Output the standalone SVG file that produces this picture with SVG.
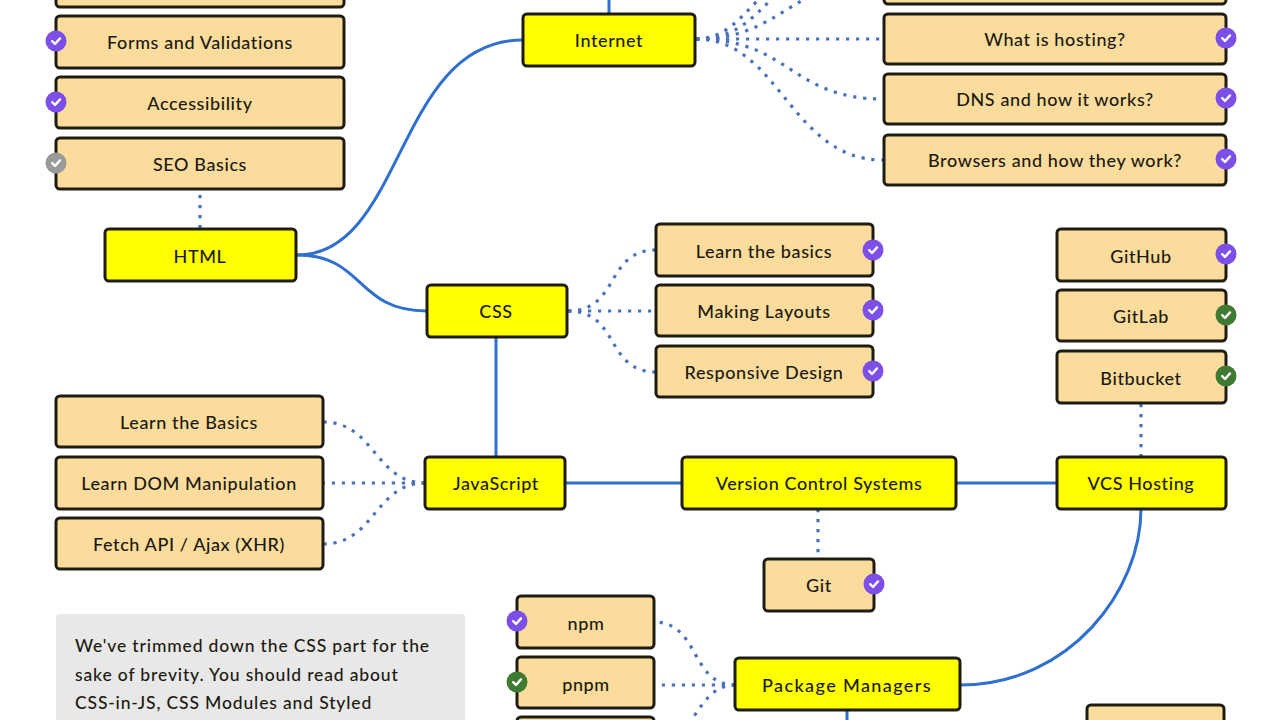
<svg xmlns="http://www.w3.org/2000/svg" width="1279" height="720" viewBox="0 0 1279 720">
<defs>
<g id="chk"><path d="M-3.8 0.2L-1 3L4 -2.6" fill="none" stroke="#fff" stroke-width="2.4" stroke-linecap="round" stroke-linejoin="round"/></g>
</defs>
<style>
text{font-family:"Lato","Noto Sans","Liberation Sans",sans-serif;font-size:18px;font-weight:500;letter-spacing:.6px;fill:#1c1a10;text-anchor:middle;dominant-baseline:central}
.y rect{fill:#ffff00;stroke:#1f1d12;stroke-width:3}
.o rect{fill:#fbdc9c;stroke:#1f1d12;stroke-width:3}
.s{fill:none;stroke:#2f6fd0;stroke-width:3}
.d{fill:none;stroke:#4a72bc;stroke-width:3.2;stroke-dasharray:3.2 6.8}
.p{fill:#7c4fe8}.g{fill:#3f7a32}.a{fill:#9a9a9a}
.n text{text-anchor:start;font-size:17.5px;letter-spacing:.85px}
.w{letter-spacing:1.4px}
</style>
<rect width="1279" height="720" fill="#fff"/>
<g id="connectors">
<path class="s" d="M609 0V13"/>
<path class="s" d="M297 255C405 255 395 40 523 40"/>
<path class="s" d="M297 255C365 255 355 311 427 311"/>
<path class="s" d="M496 337V457"/>
<path class="s" d="M566 483H682"/>
<path class="s" d="M956 483H1057"/>
<path class="s" d="M1141 509C1141 590 1070 685 960 685"/>
<path class="s" d="M847 711V720"/>
<path class="d" d="M200 195V229"/>
<path class="d" d="M696 39H883"/>
<path class="d" d="M696 39C790 39 790 99 883 99"/>
<path class="d" d="M696 39C780 39 790 160 883 160"/>
<path class="d" d="M696 39C750 39 770 18 810 -4"/>
<path class="d" d="M696 39C735 39 750 20 775 -4"/>
<path class="d" d="M696 39C725 39 740 18 762 -4"/>
<path class="d" d="M568 311C620 311 605 250 656 250"/>
<path class="d" d="M568 311H656"/>
<path class="d" d="M568 311C620 311 605 372 656 372"/>
<path class="d" d="M425 483C375 483 375 422 323 422"/>
<path class="d" d="M425 483H323"/>
<path class="d" d="M425 483C375 483 375 544 323 544"/>
<path class="d" d="M1141 404V457"/>
<path class="d" d="M818 509V559"/>
<path class="d" d="M735 685C690 685 700 622 654 622"/>
<path class="d" d="M735 685H654"/>
<path class="d" d="M735 685C695 685 695 745 654 745"/>
</g>
<g id="html-top" class="o"><rect x="56" y="-40" width="288" height="47" rx="4"/></g>
<g id="forms" class="o"><rect x="56" y="16" width="288" height="52" rx="4"/><text x="200" y="42">Forms and Validations</text><circle class="p" cx="56" cy="41" r="10.5"/><use href="#chk" x="56" y="41"/></g>
<g id="accessibility" class="o"><rect x="56" y="77" width="288" height="51" rx="4"/><text x="200" y="103">Accessibility</text><circle class="p" cx="56" cy="102" r="10.5"/><use href="#chk" x="56" y="102"/></g>
<g id="seo" class="o"><rect x="56" y="138" width="288" height="51" rx="4"/><text x="200" y="164">SEO Basics</text><circle class="a" cx="56" cy="163" r="10.5"/><use href="#chk" x="56" y="163"/></g>
<g id="html" class="y"><rect x="105" y="229" width="191" height="52" rx="4"/><text x="200" y="256">HTML</text></g>
<g id="internet" class="y"><rect x="523" y="14" width="172" height="52" rx="4"/><text x="609" y="40">Internet</text></g>
<g id="right-top" class="o"><rect x="884" y="-40" width="342" height="44" rx="4"/></g>
<g id="hosting" class="o"><rect x="884" y="14" width="342" height="50" rx="4"/><text x="1055" y="39">What is hosting?</text><circle class="p" cx="1226" cy="38" r="10.5"/><use href="#chk" x="1226" y="38"/></g>
<g id="dns" class="o"><rect x="884" y="74" width="342" height="50" rx="4"/><text x="1055" y="99">DNS and how it works?</text><circle class="p" cx="1226" cy="98" r="10.5"/><use href="#chk" x="1226" y="98"/></g>
<g id="browsers" class="o"><rect x="884" y="135" width="342" height="50" rx="4"/><text x="1055" y="160">Browsers and how they work?</text><circle class="p" cx="1226" cy="159" r="10.5"/><use href="#chk" x="1226" y="159"/></g>
<g id="css" class="y"><rect x="427" y="285" width="140" height="52" rx="4"/><text x="496" y="311">CSS</text></g>
<g id="css-basics" class="o"><rect x="656" y="224" width="217" height="52" rx="4"/><text x="764" y="251">Learn the basics</text><circle class="p" cx="873" cy="250" r="10.5"/><use href="#chk" x="873" y="250"/></g>
<g id="layouts" class="o"><rect x="656" y="285" width="217" height="51" rx="4"/><text x="764" y="311">Making Layouts</text><circle class="p" cx="873" cy="310" r="10.5"/><use href="#chk" x="873" y="310"/></g>
<g id="responsive" class="o"><rect x="656" y="346" width="217" height="51" rx="4"/><text x="764" y="372">Responsive Design</text><circle class="p" cx="873" cy="371" r="10.5"/><use href="#chk" x="873" y="371"/></g>
<g id="github" class="o"><rect x="1057" y="229" width="169" height="52" rx="4"/><text x="1141" y="256">GitHub</text><circle class="p" cx="1226" cy="254" r="10.5"/><use href="#chk" x="1226" y="254"/></g>
<g id="gitlab" class="o"><rect x="1057" y="290" width="169" height="51" rx="4"/><text x="1141" y="316">GitLab</text><circle class="g" cx="1226" cy="315" r="10.5"/><use href="#chk" x="1226" y="315"/></g>
<g id="bitbucket" class="o"><rect x="1057" y="351" width="169" height="52" rx="4"/><text x="1141" y="378">Bitbucket</text><circle class="g" cx="1226" cy="376" r="10.5"/><use href="#chk" x="1226" y="376"/></g>
<g id="js-basics" class="o"><rect x="56" y="396" width="267" height="51" rx="4"/><text x="189" y="422">Learn the Basics</text></g>
<g id="dom" class="o"><rect x="56" y="457" width="267" height="52" rx="4"/><text x="189" y="483">Learn DOM Manipulation</text></g>
<g id="fetch" class="o"><rect x="56" y="518" width="267" height="51" rx="4"/><text x="189" y="544">Fetch API / Ajax (XHR)</text></g>
<g id="javascript" class="y"><rect x="425" y="457" width="140" height="52" rx="4"/><text x="496" y="483">JavaScript</text></g>
<g id="vcs" class="y"><rect x="682" y="457" width="274" height="52" rx="4"/><text x="819" y="483">Version Control Systems</text></g>
<g id="vcs-hosting" class="y"><rect x="1057" y="457" width="169" height="52" rx="4"/><text x="1141" y="483">VCS Hosting</text></g>
<g id="git" class="o"><rect x="764" y="559" width="110" height="52" rx="4"/><text x="819" y="585">Git</text><circle class="p" cx="874" cy="584" r="10.5"/><use href="#chk" x="874" y="584"/></g>
<g id="npm" class="o"><rect x="517" y="596" width="137" height="52" rx="4"/><text x="586" y="623">npm</text><circle class="p" cx="517" cy="621" r="10.5"/><use href="#chk" x="517" y="621"/></g>
<g id="pnpm" class="o"><rect x="517" y="657" width="137" height="51" rx="4"/><text x="586" y="684">pnpm</text><circle class="g" cx="517" cy="682" r="10.5"/><use href="#chk" x="517" y="682"/></g>
<g id="pm-third" class="o"><rect x="517" y="717" width="137" height="40" rx="4"/></g>
<g id="pm" class="y"><rect x="735" y="658" width="225" height="52" rx="4"/><text class="w" x="847" y="685">Package Managers</text></g>
<g id="bottom-right" class="o"><rect x="1087" y="705" width="137" height="40" rx="4"/></g>
<g id="note" class="n"><rect x="56" y="614" width="409" height="120" rx="3" fill="#e8e8e8"/><text x="75" y="645">We've trimmed down the CSS part for the</text><text x="75" y="674">sake of brevity. You should read about</text><text x="75" y="702">CSS-in-JS, CSS Modules and Styled</text></g>
</svg>
